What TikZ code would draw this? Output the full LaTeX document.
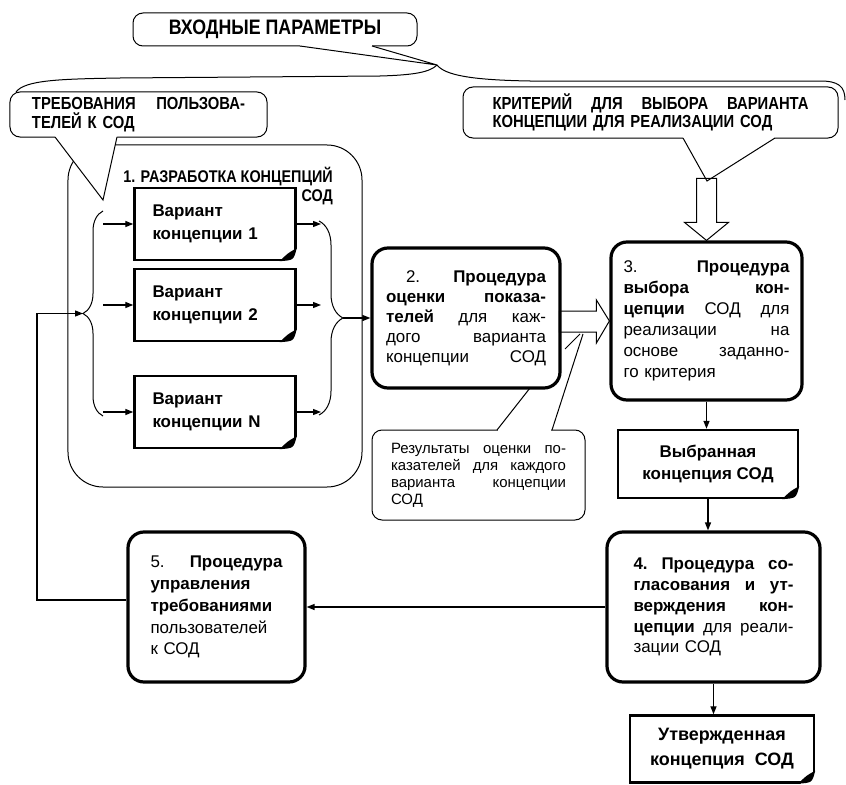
\documentclass[tikz,border=0pt]{standalone}
\usepackage{fontspec}
\setmainfont{Liberation Sans}
\newfontfamily\capsfont{Liberation Sans}[FakeStretch=0.85]
\usetikzlibrary{positioning, arrows.meta, calc, decorations.pathreplacing}

\begin{document}
\begin{tikzpicture}[
  x=1bp, y=-1bp,
  proc/.style={draw, line width=3.2bp, rounded corners=16bp, align=left, inner sep=0pt, font=\fontsize{17}{20}\selectfont},
  docbox/.style={draw, line width=2.4bp, fill=white, inner sep=0pt, font=\bfseries\fontsize{17}{23}\selectfont},
  callout/.style={draw, line width=1bp, rounded corners=10bp, fill=white, inner sep=0pt},
  capstext/.style={font=\capsfont\bfseries\fontsize{17.5}{18.5}\selectfont},
  thin/.style={line width=1bp},
  hollow/.style={draw, line width=1bp},
  arrow/.style={-{Triangle[length=8bp, width=6bp]}, line width=1.3bp}
]

\useasboundingbox (0,0) rectangle (846,785);

% long brace over the input callouts
\draw[thin] (16,92) .. controls (25,80) and (60,79) .. (120,78) -- (380,76)
  .. controls (415,75) and (430,72) .. (437,65)
  .. controls (445,75) and (470,80) .. (530,81) -- (820,81)
  .. controls (838,81) and (845,86) .. (845,100);

% callouts
\node[callout, capstext, font=\capsfont\bfseries\fontsize{21}{22}\selectfont, minimum width=284bp, minimum height=33bp] (inp) at (275,29.5) {ВХОДНЫЕ ПАРАМЕТРЫ};
\fill[white] (300,43) -- (300,46) -- (437,65) -- (372,46) -- (372,43) -- cycle;
\draw[thin] (300,46) -- (437,65) -- (372,46);

\node[callout, capstext, minimum width=257bp, minimum height=45bp, text width=213bp, align=left] (req) at (138.5,114.5)
  {ТРЕБОВАНИЯ\hfill ПОЛЬЗОВА-\\ТЕЛЕЙ К СОД};
\node[callout, capstext, minimum width=375bp, minimum height=51bp, text width=316bp, align=left] (crit) at (650.5,112.5)
  {КРИТЕРИЙ\hfill ДЛЯ\hfill ВЫБОРА\hfill ВАРИАНТА\\КОНЦЕПЦИИ ДЛЯ РЕАЛИЗАЦИИ СОД};

% group 1
\node[draw, thin, rounded corners=35bp, minimum width=294bp, minimum height=342bp] (grp) at (215,316) {};
\node[capstext, font=\capsfont\bfseries\fontsize{17}{19}\selectfont, align=right, anchor=north east, inner sep=0pt] (grptitle) at (333,167) {1. РАЗРАБОТКА КОНЦЕПЦИЙ\\СОД};

\fill[white] (55,134) -- (55,137) -- (103,200) -- (117,137) -- (117,134) -- cycle;
\draw[thin] (55,137) -- (103,200) -- (117,137);
\fill[white] (683,135) -- (683,138) -- (707,181) -- (775,138) -- (775,135) -- cycle;
\draw[thin] (683,138) -- (707,181) -- (775,138);

\node[docbox, minimum width=161bp, minimum height=72bp, text width=125bp, align=left] (v1) at (215,224) {Вариант\\концепции 1};
\node[docbox, minimum width=161bp, minimum height=72bp, text width=125bp, align=left] (v2) at (215,305) {Вариант\\концепции 2};
\node[docbox, minimum width=161bp, minimum height=72bp, text width=125bp, align=left] (vn) at (215,412) {Вариант\\концепции N};

% procedures
\node[proc, minimum width=188bp, minimum height=140bp, text width=160bp] (b2) at (466,318)
  {\hspace*{20bp}2.\hfill\textbf{Процедура}\\ \textbf{оценки\hfill показа-}\\ \textbf{телей}\hfill для\hfill каж-\\ дого\hfill варианта\\ концепции\hfill СОД};
\node[proc, minimum width=191bp, minimum height=158bp, text width=166bp, font=\fontsize{17}{21}\selectfont] (b3) at (706.5,321)
  {3.\hfill\textbf{Процедура}\\ \textbf{выбора}\hfill\textbf{кон-}\\ \textbf{цепции}\hfill СОД\hfill для\\ реализации\hfill на\\ основе\hfill заданно-\\ го критерия};
\node[proc, minimum width=213bp, minimum height=150bp, text width=160bp, font=\fontsize{17}{21}\selectfont] (b4) at (713.5,607)
  {\textbf{4.\hfill Процедура\hfill со-}\\ \textbf{гласования\hfill и\hfill ут-}\\ \textbf{верждения\hfill кон-}\\ \textbf{цепции}\hfill для\hfill реали-\\ зации СОД};
\node[proc, minimum width=177bp, minimum height=150bp, text width=132bp, font=\fontsize{17}{22}\selectfont] (b5) at (216.5,607)
  {5.\hfill\textbf{Процедура}\\ \textbf{управления}\\ \textbf{требованиями}\\ пользователей\\ к СОД};

\node[docbox, minimum width=180bp, minimum height=68bp, align=center] (sel) at (708,464) {Выбранная\\концепция СОД};
\node[docbox, minimum width=184bp, minimum height=67bp, align=center, font=\bfseries\fontsize{18}{25}\selectfont] (fin) at (722,749) {Утвержденная\\концепция\hspace{5bp} СОД};

% folded corners of the documents
\foreach \d in {v1,v2,vn,sel,fin} {
  \fill[white] ([xshift=-17bp,yshift=-2bp]\d.south east) -- ([xshift=2bp,yshift=-2bp]\d.south east) -- ([xshift=2bp,yshift=14bp]\d.south east) -- cycle;
  \fill ([xshift=-17bp]\d.south east) .. controls ([xshift=-3bp,yshift=1bp]\d.south east) .. ([yshift=13bp]\d.south east)
    .. controls ([xshift=-9bp,yshift=8bp]\d.south east) .. ([xshift=-17bp]\d.south east) -- cycle;
}

% results callout
\node[callout, minimum width=213bp, minimum height=90bp, text width=175bp, align=left, font=\fontsize{15}{17}\selectfont] (res) at (478.5,475)
  {Результаты\hfill оценки\hfill по-\\ казателей\hfill для\hfill каждого\\ варианта\hfill концепции\\ СОД};
\fill[white] (498,428) rectangle (551,432);
\draw[thin] (497,430) -- (530,388);
\draw[thin] (552,430) -- (583,334);
\draw[thin] (565,349) -- (580,334);

% hollow arrows
\draw[hollow] (b3.west) -- ++(-13,-21) -- ++(0,11) -- ++(-37,0) -- ++(0,21) -- ++(37,0) -- ++(0,11) -- cycle;
\draw[hollow] (b3.north) -- ++(-22,-18) -- ++(12,0) -- ++(0,-44) -- ++(20,0) -- ++(0,44) -- ++(12,0) -- cycle;

% braces
\draw[thin, decorate, decoration={brace, amplitude=20bp}] (103,416) -- (103,211);
\draw[thin, decorate, decoration={brace, amplitude=24bp}] (319,221) -- (319,415);
\coordinate (lbtip) at (83,313.5);
\coordinate (rbtip) at (343,318);
\coordinate (lbr) at (103,0);
\coordinate (rbr) at (321,0);
\coordinate (fbk) at (37,0);

% connectors
\foreach \v in {v1,v2,vn} {
  \draw[arrow] (\v.west -| lbr) -- (\v.west);
  \draw[arrow] (\v.east) -- (\v.east -| rbr);
}
\draw[arrow] (rbtip) -- (rbtip -| b2.west);
\draw[arrow] (b3.south) -- (b3.south |- sel.north);
\draw[arrow] (sel.south) -- (sel.south |- b4.north);
\draw[arrow] (b4.south) -- (b4.south |- fin.north);
\draw[arrow] (b4.west) -- (b5.east);
\draw[arrow] ([yshift=7bp]b5.west) -| (fbk |- lbtip) -- (lbtip);

\end{tikzpicture}
\end{document}
